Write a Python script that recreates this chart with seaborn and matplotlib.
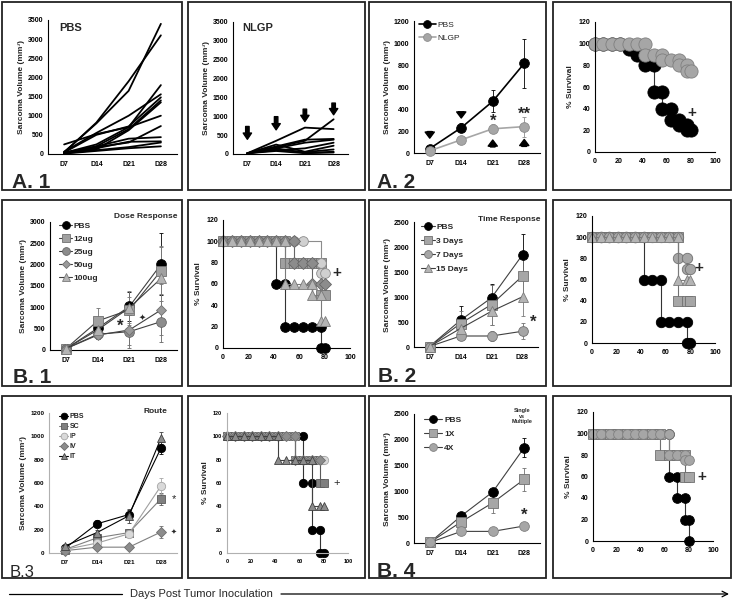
import numpy as np
import pandas as pd
import seaborn as sns
import matplotlib
matplotlib.use("Agg")
from matplotlib import pyplot as plt
from matplotlib.patches import Rectangle

W, H = 734, 603

days = ["D7", "D14", "D21", "D28"]
day_idx = [0, 1, 2, 3]

# ---- A.1 individual mice (D7, D14, D21, D28)
pbs_mice = [
    [50, 800, 1650, 3400],
    [40, 820, 1900, 3100],
    [30, 250, 700, 1800],
    [60, 550, 1000, 1560],
    [40, 500, 720, 1480],
    [20, 200, 650, 1400],
    [30, 120, 620, 1350],
    [250, 520, 700, 1000],
    [20, 180, 300, 730],
    [30, 200, 400, 440],
    [40, 150, 320, 330],
    [20, 100, 180, 300],
    [10, 80, 150, 200],
]
nlgp_mice = [
    [20, 180, 350, 920],
    [20, 350, 700, 660],
    [20, 200, 380, 400],
    [20, 150, 300, 380],
    [20, 100, 150, 300],
    [20, 250, 60, 220],
    [20, 120, 50, 120],
    [20, 80, 20, 40],
    [20, 150, 30, 60],
]

# ---- A.2 group means
a2_names = ["PBS", "NLGP"]
a2_vals = [[40, 230, 470, 815], [20, 120, 220, 240]]
a2_errs = [[10, 40, 100, 220], [5, 20, 40, 90]]

# ---- A survival
a_pbs_t = [0, 7, 14, 21, 28, 35, 42, 49, 49, 56, 56, 63, 63, 70, 70, 77, 77, 80]
a_pbs_s = [100, 100, 100, 100, 95, 90, 80, 80, 55, 55, 40, 40, 30, 30, 25, 25, 20, 20]
a_nlgp_t = [0, 7, 14, 21, 28, 35, 42, 42, 49, 56, 56, 63, 70, 70, 77, 77, 80]
a_nlgp_s = [100, 100, 100, 100, 100, 100, 100, 90, 90, 90, 85, 85, 85, 80, 80, 75, 75]

# ---- B.1 dose response
b1_names = ["PBS", "12ug", "25ug", "50ug", "100ug"]
b1_vals = [[30, 510, 1020, 2010], [30, 680, 940, 1860], [30, 370, 430, 665],
           [30, 350, 470, 940], [30, 470, 990, 1680]]
b1_errs = [[20, 250, 350, 730], [20, 300, 300, 550], [20, 120, 380, 480],
           [20, 100, 350, 600], [20, 150, 400, 750]]
b1_t = [
    [0, 7, 14, 21, 28, 35, 42, 42, 49, 49, 56, 63, 70, 77, 77, 80],
    [0, 7, 14, 21, 28, 35, 42, 49, 49, 56, 63, 70, 77, 77, 80],
    [0, 7, 14, 21, 28, 35, 42, 49, 56, 63, 77, 77, 80],
    [0, 7, 14, 21, 28, 35, 42, 49, 56, 56, 63, 70, 70, 77, 80],
    [0, 7, 14, 21, 28, 35, 42, 49, 49, 56, 63, 70, 70, 77, 77, 80],
]
b1_s = [
    [100, 100, 100, 100, 100, 100, 100, 60, 60, 20, 20, 20, 20, 20, 0, 0],
    [100, 100, 100, 100, 100, 100, 100, 100, 80, 80, 80, 80, 80, 50, 50],
    [100, 100, 100, 100, 100, 100, 100, 100, 100, 100, 80, 70, 70],
    [100, 100, 100, 100, 100, 100, 100, 100, 100, 80, 80, 80, 60, 60, 60],
    [100, 100, 100, 100, 100, 100, 100, 100, 60, 60, 60, 60, 50, 50, 25, 25],
]

# ---- B.2 time response
b2_names = ["PBS", "3 Days", "7 Days", "15 Days"]
b2_vals = [[10, 535, 985, 1845], [10, 470, 850, 1420], [10, 220, 220, 315],
           [10, 370, 715, 1005]]
b2_errs = [[10, 280, 280, 420], [10, 250, 400, 500], [10, 80, 100, 160],
           [10, 200, 280, 380]]
b2_t = [
    [0, 7, 14, 21, 28, 35, 42, 42, 49, 56, 56, 63, 70, 77, 77, 80],
    [0, 7, 14, 21, 28, 35, 42, 49, 56, 63, 70, 70, 77, 80],
    [0, 7, 14, 21, 28, 35, 42, 49, 56, 63, 70, 70, 77, 77, 80],
    [0, 7, 14, 21, 28, 35, 42, 49, 56, 63, 70, 70, 77, 80],
]
b2_s = [
    [100, 100, 100, 100, 100, 100, 100, 60, 60, 60, 20, 20, 20, 20, 0, 0],
    [100, 100, 100, 100, 100, 100, 100, 100, 100, 100, 100, 40, 40, 40],
    [100, 100, 100, 100, 100, 100, 100, 100, 100, 100, 100, 80, 80, 70, 70],
    [100, 100, 100, 100, 100, 100, 100, 100, 100, 100, 100, 60, 60, 60],
]

# ---- B.3 route
b3_names = ["PBS", "SC", "IP", "IV", "IT"]
b3_vals = [[40, 250, 330, 900], [30, 130, 175, 465], [30, 85, 165, 575],
           [20, 50, 50, 180], [60, 175, 320, 985]]
b3_errs = [[10, 30, 40, 50], [10, 20, 30, 50], [10, 20, 30, 70],
           [10, 10, 10, 50], [10, 20, 60, 50]]
b3_t = [
    [0, 7, 14, 21, 28, 35, 42, 49, 56, 63, 63, 70, 70, 77, 77, 80],
    [0, 7, 14, 21, 28, 35, 42, 49, 56, 56, 63, 70, 77, 77, 80],
    [0, 7, 14, 21, 28, 35, 42, 49, 56, 56, 63, 70, 77, 80],
    [0, 7, 14, 21, 28, 35, 42, 49, 56, 56, 63, 70, 77],
    [0, 7, 14, 21, 28, 35, 42, 42, 49, 56, 63, 70, 70, 77, 80],
]
b3_s = [
    [100, 100, 100, 100, 100, 100, 100, 100, 100, 100, 60, 60, 20, 20, 0, 0],
    [100, 100, 100, 100, 100, 100, 100, 100, 100, 80, 80, 80, 80, 60, 60],
    [100, 100, 100, 100, 100, 100, 100, 100, 100, 80, 80, 80, 80, 80],
    [100, 100, 100, 100, 100, 100, 100, 100, 100, 80, 80, 80, 80],
    [100, 100, 100, 100, 100, 100, 100, 80, 80, 80, 80, 80, 40, 40, 40],
]

# ---- B.4 single vs multiple
b4_names = ["PBS", "1X", "4X"]
b4_vals = [[10, 525, 990, 1850], [10, 410, 780, 1235], [10, 225, 225, 330]]
b4_errs = [[10, 40, 60, 180], [10, 60, 200, 220], [10, 30, 30, 40]]
b4_t = [
    [0, 7, 14, 21, 28, 35, 42, 49, 56, 63, 63, 70, 70, 77, 77, 80, 80],
    [0, 7, 14, 21, 28, 35, 42, 49, 56, 56, 63, 70, 77, 77, 80],
    [0, 7, 14, 21, 28, 35, 42, 49, 56, 63, 63, 70, 77, 77, 80],
]
b4_s = [
    [100, 100, 100, 100, 100, 100, 100, 100, 100, 100, 60, 60, 40, 40, 20, 20, 0],
    [100, 100, 100, 100, 100, 100, 100, 100, 100, 80, 80, 80, 80, 60, 60],
    [100, 100, 100, 100, 100, 100, 100, 100, 100, 100, 80, 80, 80, 75, 75],
]

BLACK = ("black", "black", "o")

sns.set_style("white")
plt.rcParams["font.family"] = ["Liberation Sans", "DejaVu Sans"]
plt.rcParams["font.weight"] = "bold"
plt.rcParams["axes.labelweight"] = "bold"
plt.rcParams["axes.facecolor"] = "none"

fig = plt.figure(figsize=(W / 100, H / 100), dpi=100)


def px_axes(l, t, r, b):
    return fig.add_axes([l / W, 1 - b / H, (r - l) / W, (b - t) / H])


def style(ax, spine="black", size=5):
    sns.despine(ax=ax)
    for s in ("left", "bottom"):
        ax.spines[s].set_color(spine)
        ax.spines[s].set_linewidth(0.8)
    ax.tick_params(labelsize=size, length=2, width=0.6, pad=1.5, colors="black")
    ax.set_xlabel("")


def volume_axes(ax, ymax, ystep, size=5, spine="black"):
    ax.set_xlim(-0.5, 3.5)
    ax.set_ylim(0, ymax)
    ax.set_xticks(day_idx, days)
    ax.set_yticks(np.arange(0, ymax + 1, ystep))
    style(ax, spine, size)
    ax.tick_params(axis="x", length=0, pad=5)
    ax.set_ylabel("Sarcoma Volume (mm³)", fontsize=6, labelpad=2)


def volume_panel(ax, names, vals, errs, looks, lines, ms, lw=0.8):
    for name, v, e, (fc, ec, mk), lc in zip(names, vals, errs, looks, lines):
        ax.errorbar(day_idx, v, yerr=e, fmt="none", ecolor=ec, elinewidth=0.6,
                    capsize=1.5, capthick=0.6, zorder=2)
        sns.lineplot(x=day_idx, y=v, ax=ax, color=lc, linewidth=lw, marker=mk,
                     markersize=ms * (0.8 if mk == "D" else 1.0),
                     markerfacecolor=fc, markeredgecolor=ec,
                     markeredgewidth=0.6, label=name, clip_on=False, zorder=3)


def survival_panel(ax, ts, ss, looks, ms, size=5, spine="black"):
    for t, s, (fc, ec, mk) in zip(ts, ss, looks):
        sns.lineplot(x=t, y=s, ax=ax, estimator=None, sort=False,
                     drawstyle="steps-post", color=ec if fc != "black" else "#333333",
                     linewidth=0.8, marker=mk,
                     markersize=ms * (0.85 if mk == "D" else 1.0),
                     markerfacecolor=fc, markeredgecolor=ec,
                     markeredgewidth=0.6, clip_on=False, legend=False)
    ax.set_xlim(0, 100)
    ax.set_ylim(0, 120)
    ax.set_xticks(np.arange(0, 101, 20))
    ax.set_yticks(np.arange(0, 121, 20))
    style(ax, spine, size)
    ax.tick_params(axis="x", length=0, pad=4)
    ax.set_ylabel("% Survival", fontsize=6, labelpad=3)


def legend(ax, x, y, size, spacing, weight="bold", hl=1.6, scale=0.8):
    return ax.legend(loc="upper left", bbox_to_anchor=(x, y), frameon=False,
                     handlelength=hl, handletextpad=0.2,
                     labelspacing=spacing, borderpad=0, borderaxespad=0,
                     markerscale=scale, prop={"weight": weight, "size": size})


# ================= Row A =================
ax = px_axes(48, 20, 177, 154)
df = pd.DataFrame([(m, d, v) for m, vals in enumerate(pbs_mice)
                   for d, v in zip(day_idx, vals)], columns=["mouse", "day", "vol"])
sns.lineplot(data=df, x="day", y="vol", units="mouse", estimator=None,
             color="black", linewidth=1.3, ax=ax, legend=False)
volume_axes(ax, 3500, 500)

ax = px_axes(233, 22, 348, 154)
df = pd.DataFrame([(m, d, v) for m, vals in enumerate(nlgp_mice)
                   for d, v in zip(day_idx, vals)], columns=["mouse", "day", "vol"])
sns.lineplot(data=df, x="day", y="vol", units="mouse", estimator=None,
             color="black", linewidth=1.3, ax=ax, legend=False)
volume_axes(ax, 3500, 500)
big_arrow = dict(arrowstyle="simple,head_length=0.45,head_width=0.6,tail_width=0.25",
                 mutation_scale=10, fc="black", ec="black", shrinkA=0, shrinkB=0)
for i, (y0, y1) in enumerate([(730, 390), (990, 640), (1190, 860), (1350, 1040)]):
    ax.annotate("", xy=(i, y1), xytext=(i, y0), arrowprops=big_arrow)

ax = px_axes(414, 21, 540, 153)
volume_panel(ax, a2_names, a2_vals, a2_errs,
             [BLACK, ("#a6a6a6", "#8c8c8c", "o")], ["black", "#a6a6a6"], 7, lw=1.2)
volume_axes(ax, 1200, 200)
legend(ax, 0.04, 1.0, 6, 0.6, weight="normal", hl=2.0)
small_arrow = dict(arrowstyle="simple,head_length=0.4,head_width=0.6,tail_width=0.3",
                   mutation_scale=11, fc="black", ec="black", shrinkA=0, shrinkB=0)
for i, (y0, y1) in [(0, (195, 135)), (1, (375, 318)), (2, (55, 118)), (3, (60, 123))]:
    ax.annotate("", xy=(i, y1), xytext=(i, y0), arrowprops=small_arrow)
ax.text(2, 290, "*", ha="center", va="center", fontsize=12)
ax.text(3, 350, "**", ha="center", va="center", fontsize=12)

ax = px_axes(595, 22, 715, 152)
survival_panel(ax, [a_pbs_t, a_nlgp_t], [a_pbs_s, a_nlgp_s],
               [BLACK, ("#a6a6a6", "#7f7f7f", "o")], 9.5)
ax.text(81, 36, "+", ha="center", va="center", fontsize=11)

# ================= Row B (1, 2) =================
ax = px_axes(50, 222, 177, 350)
b1_look = [BLACK, ("#a0a0a0", "#707070", "s"), ("#8c8c8c", "#666666", "o"),
           ("#9a9a9a", "#707070", "D"), ("#b4b4b4", "#7a7a7a", "^")]
volume_panel(ax, b1_names, b1_vals, b1_errs, b1_look, ["#404040"] * 5, 7)
volume_axes(ax, 3000, 500)
legend(ax, 0.07, 1.0, 6, 0.62)
ax.text(1.72, 560, "*", ha="center", va="center", fontsize=12)
ax.text(2.4, 740, "✦", ha="center", va="center", fontsize=6)

ax = px_axes(223, 220, 350, 348)
b1_slook = [BLACK, ("#a0a0a0", "#707070", "s"), ("#d0d0d0", "#8c8c8c", "o"),
            ("#8c8c8c", "#666666", "D"), ("#b4b4b4", "#7a7a7a", "^")]
survival_panel(ax, b1_t, b1_s, b1_slook, 7)
ax.text(90, 70, "+", ha="center", va="center", fontsize=11)

ax = px_axes(414, 222, 538, 347)
b2_look = [BLACK, ("#a6a6a6", "#707070", "s"), ("#a6a6a6", "#707070", "o"),
           ("#b4b4b4", "#7a7a7a", "^")]
volume_panel(ax, b2_names, b2_vals, b2_errs, b2_look, ["#404040"] * 4, 7)
volume_axes(ax, 2500, 500)
legend(ax, 0.06, 0.99, 6, 0.75)
ax.text(3.35, 500, "*", ha="center", va="center", fontsize=12)

ax = px_axes(592, 216, 715, 343)
survival_panel(ax, b2_t, b2_s, b2_look, 7.5)
ax.text(87, 71, "+", ha="center", va="center", fontsize=11)

# ================= Row B (3, 4) =================
ax = px_axes(49, 413, 177, 553)
b3_look = [BLACK, ("#7f7f7f", "#5a5a5a", "s"), ("#d9d9d9", "#a6a6a6", "o"),
           ("#8c8c8c", "#6e6e6e", "D"), ("#8c8c8c", "#404040", "^")]
volume_panel(ax, b3_names, b3_vals, b3_errs, b3_look,
             ["black", "#808080", "#a0a0a0", "#808080", "black"], 6)
volume_axes(ax, 1200, 200, size=4.5, spine="#b0b0b0")
legend(ax, 0.08, 1.0, 5, 0.45, hl=1.3)
ax.text(3.4, 465, "*", ha="center", va="center", fontsize=8, fontweight="normal")
ax.text(3.4, 180, "✦", ha="center", va="center", fontsize=5)

ax = px_axes(227, 413, 348, 553)
survival_panel(ax, b3_t, b3_s, b3_look, 6, size=4, spine="#b0b0b0")
ax.text(91, 60, "+", ha="center", va="center", fontsize=8, fontweight="normal")

ax = px_axes(414, 414, 540, 543)
b4_look = [BLACK, ("#a6a6a6", "#707070", "s"), ("#a6a6a6", "#808080", "o")]
volume_panel(ax, b4_names, b4_vals, b4_errs, b4_look, ["#404040"] * 3, 7)
volume_axes(ax, 2500, 500)
legend(ax, 0.08, 0.98, 6, 0.7, hl=2.2)
ax.text(3, 540, "*", ha="center", va="center", fontsize=12)

ax = px_axes(593, 412, 713, 541)
survival_panel(ax, b4_t, b4_s, b4_look, 7)
ax.text(91, 60, "+", ha="center", va="center", fontsize=11)

# ================= frame, panel labels, bottom arrow =================
bg = fig.add_axes([0, 0, 1, 1], zorder=-1)
bg.set_xlim(0, W)
bg.set_ylim(H, 0)
bg.axis("off")
for y0, y1 in [(2, 190), (200, 386), (396, 578)]:
    for x0, x1 in [(2, 182), (188, 365), (369, 546), (553, 731)]:
        bg.add_patch(Rectangle((x0, y0), x1 - x0, y1 - y0, fill=False,
                               ec="#222222", lw=1.3))

bg.text(12, 188, "A. 1", fontsize=15, va="baseline")
bg.text(377, 188, "A. 2", fontsize=15, va="baseline")
bg.text(13, 383, "B. 1", fontsize=15, va="baseline")
bg.text(378, 382, "B. 2", fontsize=15, va="baseline")
bg.text(10, 577, "B.3", fontsize=12, fontweight="normal", va="baseline")
bg.text(377, 577, "B. 4", fontsize=15, va="baseline")

bg.text(59, 31, "PBS", fontsize=8, va="baseline")
bg.text(242, 31, "NLGP", fontsize=8, va="baseline")
bg.text(177, 218, "Dose Response", fontsize=6, ha="right", va="baseline")
bg.text(540, 221, "Time Response", fontsize=6, ha="right", va="baseline")
bg.text(167, 413, "Route", fontsize=6, ha="right", va="baseline")
bg.text(522, 416, "Single\nvs\nMultiple", fontsize=4, ha="center", va="center",
        linespacing=1.1)

bg.plot([9, 122], [594, 594], color="black", lw=0.9)
bg.annotate("", xy=(729, 594), xytext=(281, 594),
            arrowprops=dict(arrowstyle="->", lw=0.9, color="black",
                            shrinkA=0, shrinkB=0))
bg.text(201, 594, "Days Post Tumor Inoculation", fontsize=8, fontweight="normal",
        ha="center", va="center")

fig.savefig("out.png", dpi=100, facecolor="white")
